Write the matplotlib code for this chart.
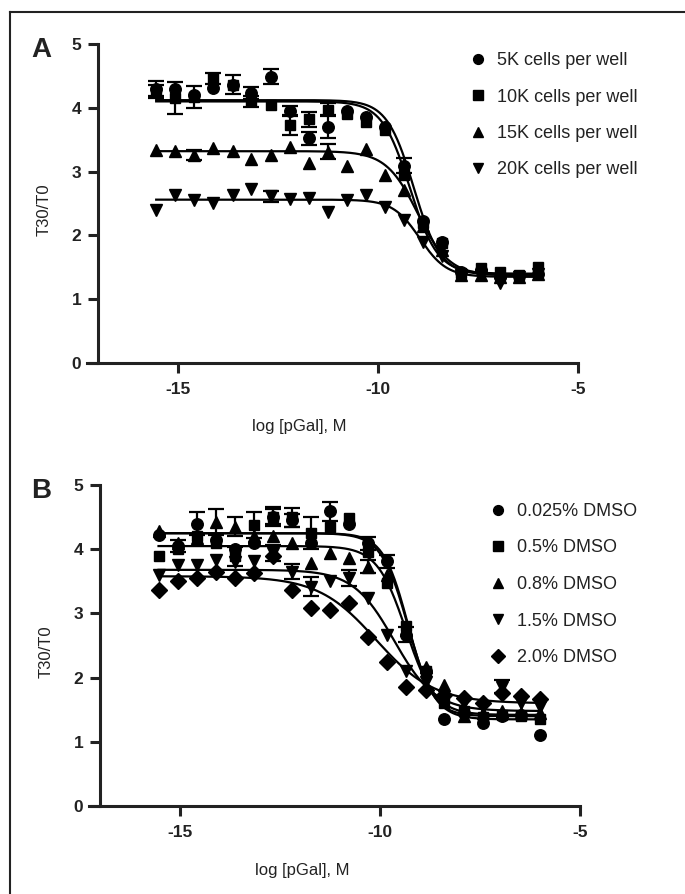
import numpy as np
import matplotlib.pyplot as plt
from matplotlib.lines import Line2D

plt.rcParams['font.family'] = ['Liberation Sans', 'DejaVu Sans']
plt.rcParams['axes.unicode_minus'] = False

# log [pGal] (3-fold dilutions)
log_conc = [-15.54, -15.06, -14.59, -14.11, -13.63, -13.16, -12.68, -12.20, -11.73, -11.25, -10.77,
            -10.29, -9.82, -9.34, -8.86, -8.39, -7.91, -7.43, -6.95, -6.48, -6.00]

# panel A: cell density
labels_a = ['5K cells per well', '10K cells per well', '15K cells per well', '20K cells per well']
markers_a = ['o', 's', '^', 'v']
cells_5k = [4.30, 4.29, 4.20, 4.31, 4.36, 4.23, 4.49, 3.95, 3.52, 3.70, 3.95, 3.85, 3.70, 3.09, 2.22, 1.90, 1.42, 1.45, 1.35, 1.37, 1.40]
cells_10k = [4.25, 4.15, 4.17, 4.46, 4.36, 4.10, 4.04, 3.73, 3.82, 3.97, 3.91, 3.78, 3.65, 2.95, 2.19, 1.88, 1.41, 1.49, 1.42, 1.38, 1.50]
cells_15k = [3.34, 3.33, 3.26, 3.37, 3.32, 3.20, 3.26, 3.38, 3.14, 3.31, 3.08, 3.35, 2.95, 2.71, 2.14, 1.77, 1.38, 1.38, 1.35, 1.35, 1.40]
cells_20k = [2.40, 2.64, 2.55, 2.51, 2.63, 2.72, 2.61, 2.57, 2.59, 2.37, 2.55, 2.63, 2.45, 2.24, 1.90, 1.67, 1.38, 1.38, 1.25, 1.35, 1.40]
err_5k = [0.12, 0, 0, 0, 0, 0.1, 0.12, 0.08, 0.1, 0.18, 0, 0, 0, 0.12, 0, 0, 0, 0, 0, 0, 0]
err_10k = [0.1, 0.25, 0.17, 0.08, 0.15, 0.08, 0, 0.15, 0.12, 0.1, 0, 0, 0, 0, 0, 0, 0, 0, 0, 0, 0]
err_15k = [0, 0, 0.08, 0, 0, 0, 0, 0, 0, 0.12, 0, 0, 0, 0, 0, 0, 0, 0, 0, 0, 0]
err_20k = [0, 0, 0, 0, 0, 0, 0.08, 0, 0, 0, 0, 0, 0, 0, 0, 0, 0, 0, 0, 0, 0]
top_a = [4.12, 4.10, 3.32, 2.56]
bottom_a = [1.38, 1.40, 1.37, 1.35]
ec50_a = [-9.1, -9.2, -9.0, -8.95]
hill_a = [1.3, 1.25, 1.1, 1.3]

# panel B: DMSO
labels_b = ['0.025% DMSO', '0.5% DMSO', '0.8% DMSO', '1.5% DMSO', '2.0% DMSO']
markers_b = ['o', 's', '^', 'v', 'D']
dmso_0025 = [4.22, 4.05, 4.40, 4.15, 4.00, 4.10, 4.51, 4.45, 4.09, 4.59, 4.40, 4.09, 3.81, 2.67, 2.10, 1.35, 1.45, 1.29, 1.40, 1.42, 1.11]
dmso_05 = [3.89, 4.00, 4.20, 4.10, 3.89, 4.38, 4.51, 4.50, 4.25, 4.35, 4.48, 3.96, 3.47, 2.80, 2.10, 1.60, 1.48, 1.38, 1.42, 1.40, 1.35]
dmso_08 = [4.28, 4.10, 4.17, 4.43, 4.35, 4.20, 4.20, 4.10, 3.78, 3.94, 3.86, 3.73, 3.60, 2.75, 2.17, 1.89, 1.40, 1.45, 1.48, 1.45, 1.45]
dmso_15 = [3.60, 3.75, 3.76, 3.84, 3.80, 3.81, 3.94, 3.65, 3.42, 3.50, 3.55, 3.24, 2.67, 2.10, 1.94, 1.66, 1.60, 1.55, 1.86, 1.60, 1.55]
dmso_20 = [3.37, 3.50, 3.55, 3.65, 3.55, 3.63, 3.90, 3.37, 3.08, 3.06, 3.17, 2.64, 2.25, 1.86, 1.81, 1.73, 1.68, 1.60, 1.76, 1.71, 1.66]
err_0025 = [0, 0.1, 0.18, 0, 0, 0, 0.12, 0.1, 0, 0.15, 0, 0.1, 0.1, 0.12, 0, 0, 0, 0, 0, 0, 0]
err_05 = [0, 0, 0, 0, 0.15, 0.2, 0.15, 0.15, 0.25, 0, 0, 0, 0, 0, 0, 0, 0, 0, 0, 0, 0]
err_08 = [0, 0, 0, 0.2, 0.15, 0, 0, 0, 0, 0, 0, 0.1, 0, 0, 0, 0, 0, 0, 0, 0, 0]
err_15 = [0, 0, 0, 0, 0, 0, 0.12, 0.12, 0.15, 0, 0.12, 0, 0, 0, 0, 0, 0, 0, 0.1, 0, 0]
err_20 = [0, 0, 0, 0, 0, 0, 0, 0, 0, 0, 0, 0, 0, 0, 0, 0, 0, 0, 0, 0, 0]
top_b = [4.25, 4.25, 4.05, 3.68, 3.58]
bottom_b = [1.35, 1.40, 1.42, 1.48, 1.60]
ec50_b = [-9.3, -9.3, -9.35, -9.65, -10.1]
hill_b = [1.3, 1.4, 1.2, 0.85, 0.6]


def sigmoid(x, top, bottom, ec50, hill):
    return bottom + (top - bottom) / (1 + 10 ** ((x - ec50) * hill))


msize = {'o': 8.3, 's': 7.8, '^': 9.3, 'v': 9.3, 'D': 7.8}


def panel(ax, series, errs, markers, labels, tops, bottoms, ec50s, hills, leg_anchor):
    xs = np.linspace(log_conc[0], log_conc[-1], 300)
    for y, e, m, t, b, c, h in zip(series, errs, markers, tops, bottoms, ec50s, hills):
        e = np.array(e)
        ax.errorbar(log_conc, y, yerr=np.where(e > 0, e, np.nan), fmt=m, color='black',
                    ms=msize[m], elinewidth=1.6, capsize=6, capthick=1.6, zorder=3)
        ax.plot(xs, sigmoid(xs, t, b, c, h), color='black', lw=1.6, zorder=2)
    ax.set_xlim(-17.27, -5)
    ax.set_ylim(0, 5)
    ax.set_xticks([-15, -10, -5])
    ax.set_yticks([0, 1, 2, 3, 4, 5])
    for s in ['top', 'right']:
        ax.spines[s].set_visible(False)
    ax.spines['left'].set_position(('data', -17))
    for s in ['left', 'bottom']:
        ax.spines[s].set_linewidth(2.2)
        ax.spines[s].set_color('#222222')
    ax.tick_params(axis='both', width=2.2, length=7, color='#222222', labelsize=12.5, pad=7)
    ax.tick_params(axis='y', pad=5)
    for lab in ax.get_xticklabels() + ax.get_yticklabels():
        lab.set_fontweight('bold')
        lab.set_color('#222222')
    ax.set_ylabel('T30/T0', fontsize=12, color='#222222')
    ax.yaxis.set_label_coords(-0.072, 0.48)
    ax.set_xlabel('log [pGal], M', fontsize=12, color='#222222')
    ax.xaxis.label.set_va('center')
    ax.xaxis.set_label_coords(0.433, -0.20)
    handles = [Line2D([], [], ls='none', marker=m, color='black', ms=msize[m] * 0.85) for m in markers]
    fig.legend(handles, labels, loc='upper left', bbox_to_anchor=leg_anchor, frameon=False,
               fontsize=13, handlelength=1.0, handletextpad=0.55, labelspacing=1.08,
               borderpad=0, borderaxespad=0, labelcolor='#222222')


fig = plt.figure(figsize=(6.85, 8.94), dpi=100)
ax_a = fig.add_axes([0.127, 0.594, 0.7164, 0.3568])
ax_b = fig.add_axes([0.1304, 0.0984, 0.7164, 0.359])

panel(ax_a, [cells_5k, cells_10k, cells_15k, cells_20k], [err_5k, err_10k, err_15k, err_20k],
      markers_a, labels_a, top_a, bottom_a, ec50_a, hill_a, (469 / 685, 1 - 52 / 894))
panel(ax_b, [dmso_0025, dmso_05, dmso_08, dmso_15, dmso_20], [err_0025, err_05, err_08, err_15, err_20],
      markers_b, labels_b, top_b, bottom_b, ec50_b, hill_b, (489 / 685, 1 - 503 / 894))

fig.text(41 / 685, 1 - 50 / 894, 'A', fontsize=20, fontweight='bold', ha='center', va='center', color='#222222')
fig.text(41 / 685, 1 - 491 / 894, 'B', fontsize=20, fontweight='bold', ha='center', va='center', color='#222222')

# frame around the figure (right/bottom edges fall outside the crop)
fig.add_artist(Line2D([10 / 685, 10 / 685], [0, 1 - 12 / 894], transform=fig.transFigure, color='#222222', lw=1.5))
fig.add_artist(Line2D([10 / 685, 1], [1 - 12 / 894, 1 - 12 / 894], transform=fig.transFigure, color='#222222', lw=1.5))

fig.savefig('out.png', dpi=100)
